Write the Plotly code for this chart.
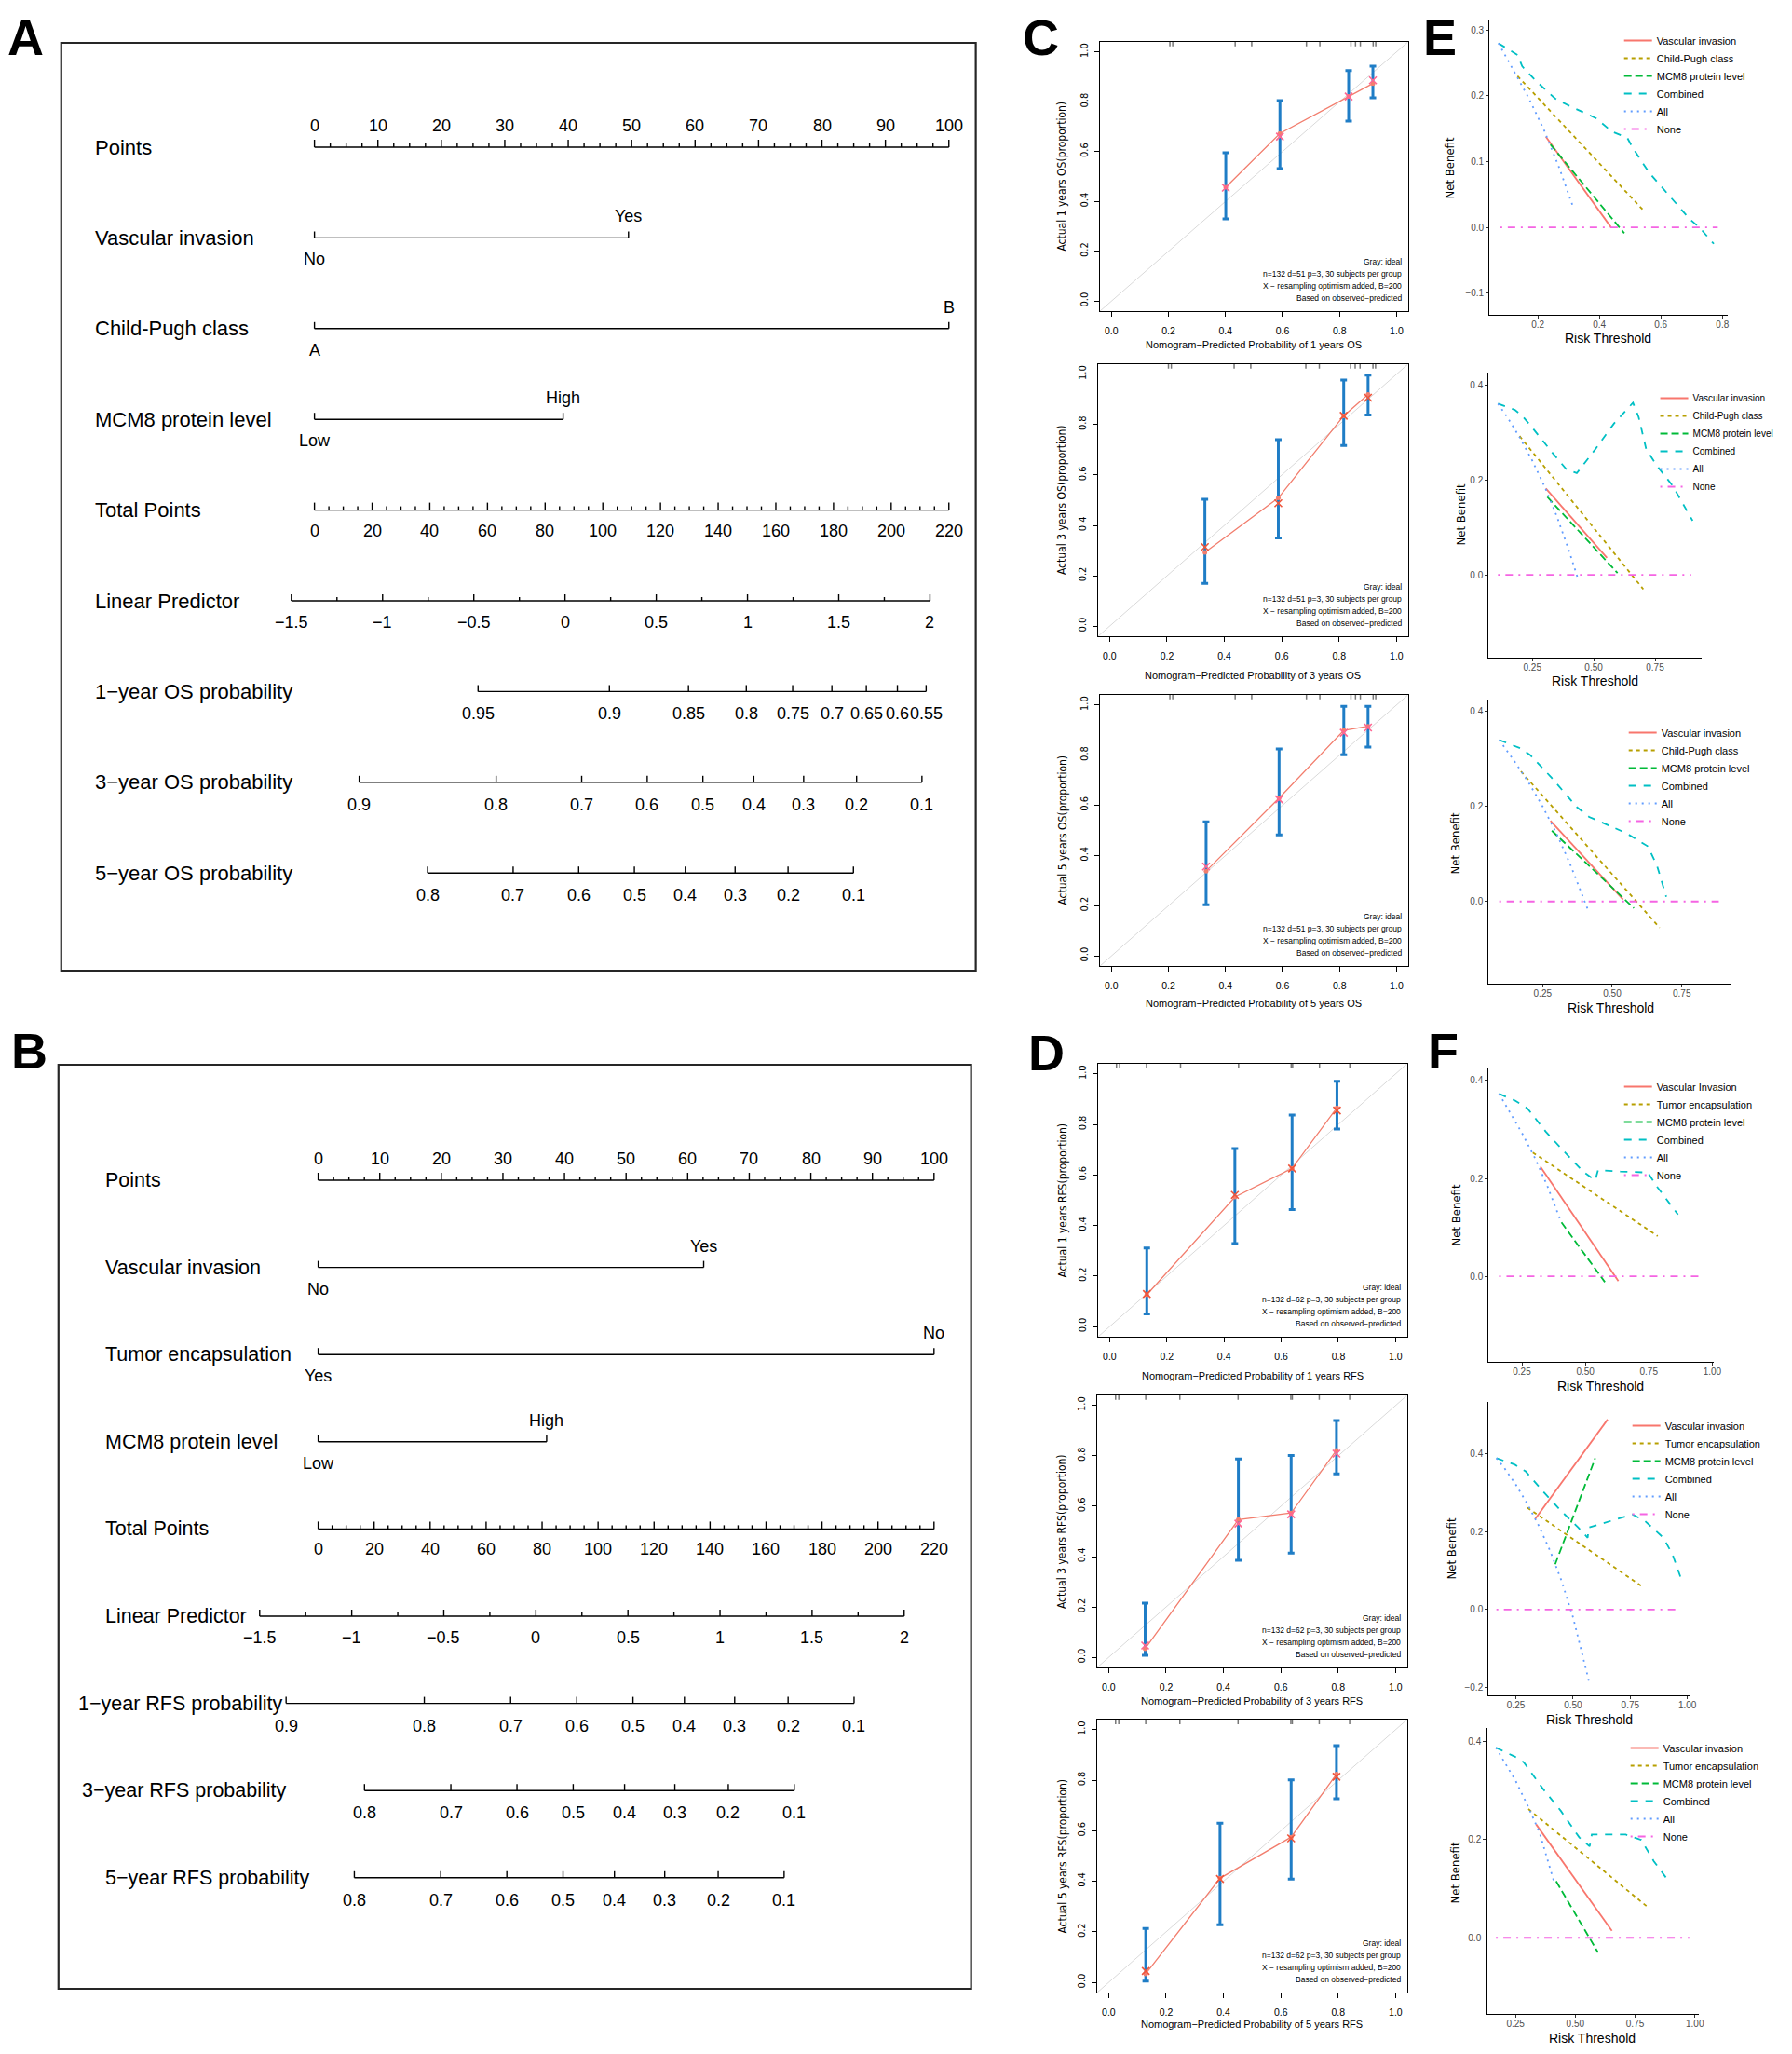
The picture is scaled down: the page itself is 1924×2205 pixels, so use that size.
import math
import plotly.graph_objects as go

W, H = 1924, 2205
PAGE_MARGIN = 8            # default <body> margin of the html page
FW, FH = W - 2 * PAGE_MARGIN, H - 2 * PAGE_MARGIN
FONT = "Liberation Sans, Arial, sans-serif"
NARROW = "Liberation Sans Narrow, DejaVu Sans Condensed, Arial Narrow, sans-serif"
MINUS = "\u2212"

# ---------------- Panel A: OS nomogram ----------------
A_var_names = ["Vascular invasion", "Child-Pugh class", "MCM8 protein level"]
A_var_levels = [["No", "Yes"], ["A", "B"], ["Low", "High"]]
A_var_points = [[0, 49.5], [0, 100], [0, 39.2]]
A_total_max = 220
A_lp_ticks = [-1.5, -1, -0.5, 0, 0.5, 1, 1.5, 2]
A_lp_zero_points = 39.5      # points-scale position of linear predictor = 0
A_points_per_lp = 28.76      # points-scale units per unit of linear predictor
A_surv_names = ["1\u2212year OS probability", "3\u2212year OS probability", "5\u2212year OS probability"]
A_surv_base = [0.9207, 0.7221, 0.6225]   # baseline survival S0(t)
A_surv_ticks = [[0.95, 0.9, 0.85, 0.8, 0.75, 0.7, 0.65, 0.6, 0.55],
                [0.9, 0.8, 0.7, 0.6, 0.5, 0.4, 0.3, 0.2, 0.1],
                [0.8, 0.7, 0.6, 0.5, 0.4, 0.3, 0.2, 0.1]]

# ---------------- Panel B: RFS nomogram ----------------
B_var_names = ["Vascular invasion", "Tumor encapsulation", "MCM8 protein level"]
B_var_levels = [["No", "Yes"], ["Yes", "No"], ["Low", "High"]]
B_var_points = [[0, 62.6], [0, 100], [0, 37.1]]
B_total_max = 220
B_lp_ticks = [-1.5, -1, -0.5, 0, 0.5, 1, 1.5, 2]
B_lp_zero_points = 35.35
B_points_per_lp = 29.9
B_surv_names = ["1\u2212year RFS probability", "3\u2212year RFS probability", "5\u2212year RFS probability"]
B_surv_base = [0.6643, 0.5678, 0.5499]
B_surv_ticks = [[0.9, 0.8, 0.7, 0.6, 0.5, 0.4, 0.3, 0.2, 0.1],
                [0.8, 0.7, 0.6, 0.5, 0.4, 0.3, 0.2, 0.1],
                [0.8, 0.7, 0.6, 0.5, 0.4, 0.3, 0.2, 0.1]]

# ---------------- Panel C: OS calibration ----------------
C1_pred = [0.401, 0.591, 0.832, 0.917]
C1_obs = [0.457, 0.673, 0.821, 0.873]
C1_corr = [0.455, 0.660, 0.821, 0.886]
C1_lo = [0.330, 0.532, 0.722, 0.816]
C1_hi = [0.595, 0.805, 0.925, 0.943]
C2_pred = [0.332, 0.588, 0.816, 0.901]
C2_obs = [0.293, 0.509, 0.835, 0.920]
C2_corr = [0.314, 0.488, 0.835, 0.907]
C2_lo = [0.170, 0.350, 0.717, 0.838]
C2_hi = [0.504, 0.740, 0.977, 0.997]
C3_pred = [0.332, 0.588, 0.815, 0.900]
C3_obs = [0.338, 0.629, 0.899, 0.915]
C3_corr = [0.356, 0.624, 0.889, 0.910]
C3_lo = [0.204, 0.482, 0.802, 0.832]
C3_hi = [0.534, 0.825, 0.995, 0.995]
C_rug = [0.205, 0.215, 0.434, 0.492, 0.684, 0.731, 0.840, 0.856, 0.873, 0.918, 0.927]
C_xtitles = ["Nomogram\u2212Predicted Probability of 1 years OS",
             "Nomogram\u2212Predicted Probability of 3 years OS",
             "Nomogram\u2212Predicted Probability of 5 years OS"]
C_ytitles = ["Actual 1 years OS(proportion)", "Actual 3 years OS(proportion)", "Actual 5 years OS(proportion)"]
C_note = "n=132 d=51 p=3, 30 subjects per group"

# ---------------- Panel D: RFS calibration ----------------
D1_pred = [0.130, 0.438, 0.638, 0.795]
D1_obs = [0.126, 0.513, 0.626, 0.866]
D1_corr = [0.129, 0.521, 0.626, 0.855]
D1_lo = [0.050, 0.329, 0.463, 0.782]
D1_hi = [0.311, 0.705, 0.837, 0.971]
D2_pred = [0.127, 0.452, 0.636, 0.794]
D2_obs = [0.034, 0.547, 0.573, 0.822]
D2_corr = [0.047, 0.531, 0.568, 0.809]
D2_lo = [0.008, 0.385, 0.414, 0.728]
D2_hi = [0.215, 0.788, 0.801, 0.940]
D3_pred = [0.129, 0.388, 0.636, 0.794]
D3_obs = [0.034, 0.412, 0.575, 0.824]
D3_corr = [0.045, 0.409, 0.570, 0.814]
D3_lo = [0.005, 0.228, 0.409, 0.727]
D3_hi = [0.213, 0.630, 0.801, 0.937]
D_rug = [0.024, 0.035, 0.129, 0.248, 0.451, 0.635, 0.640, 0.734, 0.840]
D_xtitles = ["Nomogram\u2212Predicted Probability of 1 years RFS",
             "Nomogram\u2212Predicted Probability of 3 years RFS",
             "Nomogram\u2212Predicted Probability of 5 years RFS"]
D_ytitles = ["Actual 1 years RFS(proportion)", "Actual 3 years RFS(proportion)", "Actual 5 years RFS(proportion)"]
D_note = "n=132 d=62 p=3, 30 subjects per group"

# ---------------- Panel E: OS decision curves ----------------
E_names = ["Vascular invasion", "Child-Pugh class", "MCM8 protein level", "Combined", "All", "None"]
E1_x = [[0.226, 0.438], [0.134, 0.547], [0.241, 0.481],
        [0.072, 0.134, 0.149, 0.195, 0.256, 0.297, 0.389, 0.440, 0.491, 0.511, 0.562, 0.695, 0.725, 0.772],
        [0.072, 0.12, 0.17, 0.22, 0.27, 0.316], [0.078, 0.785]]
E1_y = [[0.138, 0.0], [0.230, 0.024], [0.126, -0.009],
        [0.280, 0.262, 0.245, 0.222, 0.196, 0.186, 0.166, 0.146, 0.136, 0.119, 0.083, 0.012, 0.0, -0.025],
        [0.280, 0.240, 0.197, 0.148, 0.090, 0.029], [0.0, 0.0]]
E2_x = [[0.305, 0.554], [0.198, 0.702], [0.311, 0.597],
        [0.110, 0.179, 0.210, 0.254, 0.330, 0.387, 0.431, 0.506, 0.582, 0.660, 0.683, 0.714, 0.758, 0.821, 0.903],
        [0.110, 0.15, 0.2, 0.25, 0.3, 0.35, 0.4, 0.437], [0.110, 0.897]]
E2_y = [[0.182, 0.036], [0.292, -0.030], [0.164, 0.004],
        [0.360, 0.347, 0.334, 0.307, 0.258, 0.223, 0.214, 0.264, 0.318, 0.362, 0.332, 0.264, 0.229, 0.188, 0.114],
        [0.360, 0.330, 0.288, 0.240, 0.186, 0.123, 0.050, -0.010], [0.0, 0.0]]
E3_x = [[0.278, 0.539], [0.172, 0.670], [0.283, 0.578],
        [0.094, 0.172, 0.206, 0.283, 0.372, 0.417, 0.472, 0.550, 0.628, 0.661, 0.694],
        [0.094, 0.15, 0.2, 0.25, 0.3, 0.35, 0.411], [0.094, 0.883]]
E3_y = [[0.170, 0.004], [0.274, -0.055], [0.149, -0.014],
        [0.340, 0.322, 0.308, 0.260, 0.199, 0.178, 0.164, 0.144, 0.116, 0.075, 0.010],
        [0.340, 0.294, 0.250, 0.200, 0.143, 0.077, -0.015], [0.0, 0.0]]

# ---------------- Panel F: RFS decision curves ----------------
F1_names = ["Vascular Invasion", "Tumor encapsulation", "MCM8 protein level", "Combined", "All", "None"]
F_names = ["Vascular invasion", "Tumor encapsulation", "MCM8 protein level", "Combined", "All", "None"]
F1_x = [[0.323, 0.630], [0.293, 0.785], [0.406, 0.577],
        [0.160, 0.223, 0.272, 0.345, 0.418, 0.491, 0.539, 0.550, 0.638, 0.746, 0.784, 0.865],
        [0.160, 0.2, 0.25, 0.3, 0.35, 0.4], [0.160, 0.967]]
F1_y = [[0.224, -0.010], [0.253, 0.082], [0.110, -0.012],
        [0.373, 0.359, 0.343, 0.295, 0.254, 0.214, 0.196, 0.217, 0.214, 0.212, 0.182, 0.126],
        [0.373, 0.338, 0.293, 0.243, 0.185, 0.117], [0.0, 0.0]]
F2_x = [[0.334, 0.651], [0.300, 0.800], [0.422, 0.597],
        [0.165, 0.246, 0.293, 0.368, 0.449, 0.523, 0.564, 0.568, 0.665, 0.759, 0.814, 0.895, 0.935, 0.976],
        [0.165, 0.2, 0.25, 0.3, 0.35, 0.4, 0.45, 0.5, 0.57], [0.165, 0.969]]
F2_y = [[0.232, 0.487], [0.261, 0.060], [0.116, 0.388],
        [0.388, 0.371, 0.354, 0.303, 0.252, 0.210, 0.184, 0.210, 0.227, 0.244, 0.227, 0.184, 0.141, 0.073],
        [0.388, 0.3625, 0.320, 0.271, 0.215, 0.150, 0.073, -0.020, -0.185], [0.0, 0.0]]
F3_x = [[0.336, 0.653], [0.304, 0.799], [0.420, 0.595],
        [0.168, 0.246, 0.285, 0.362, 0.440, 0.517, 0.560, 0.569, 0.711, 0.776, 0.828, 0.880],
        [0.168, 0.2, 0.25, 0.3, 0.35, 0.414], [0.168, 0.977]]
F3_y = [[0.231, 0.014], [0.262, 0.064], [0.115, -0.030],
        [0.387, 0.369, 0.357, 0.305, 0.258, 0.204, 0.186, 0.210, 0.210, 0.199, 0.156, 0.122],
        [0.387, 0.360, 0.320, 0.270, 0.215, 0.109], [0.0, 0.0]]

DCA_colors = ["#F8766D", "#B79F00", "#00BA38", "#00BFC4", "#619CFF", "#F564E3"]
DCA_dashes = ["solid", "4px,4px", "8px,4px", "8px,8px", "2px,5px", "2px,6px,8px,6px"]

# =====================================================================
fig = go.Figure()
layout = dict(width=FW, height=FH, margin=dict(l=0, r=0, t=0, b=0),
              paper_bgcolor="white", plot_bgcolor="white", hovermode=False, showlegend=True)
annotations = []
shapes = []


def fx(px):
    return (px - PAGE_MARGIN) / FW


def fy(py):
    return 1 - (py - PAGE_MARGIN) / FH


def axname(i, xy):
    return f"{xy}axis" if i == 1 else f"{xy}axis{i}"


def axref(i, xy):
    return xy if i == 1 else f"{xy}{i}"


def fmt(v):
    return f"{v:g}".replace("-", MINUS)


def nomogram(i, box, zero_px, hundred_px, row0_px, rowpx, label_px, label_size,
             names, levels, pts, total_max, lp_ticks, lp0pts, ppl, snames, sbase, sticks):
    x0, y0, x1, y1 = box
    ppp = (hundred_px - zero_px) / 100.0
    xa, ya = axref(i, "x"), axref(i, "y")
    layout[axname(i, "x")] = dict(domain=[fx(x0), fx(x1)],
                                  range=[(x0 - zero_px) / ppp, (x1 - zero_px) / ppp],
                                  visible=False, anchor=ya)
    layout[axname(i, "y")] = dict(domain=[fy(y1), fy(y0)],
                                  range=[(y1 - row0_px) / rowpx, (y0 - row0_px) / rowpx],
                                  visible=False, anchor=xa)
    xs, ys = [], []

    def seg(a, b, c, d):
        xs.extend([a, c, None])
        ys.extend([b, d, None])

    def tick(x, r, L):
        seg(x, r, x, r - L / rowpx)

    def tlab(x, r, text, dy):
        annotations.append(dict(x=x, y=r, xref=xa, yref=ya, text=text, showarrow=False,
                                xanchor="center", yanchor="middle", yshift=dy,
                                font=dict(family=FONT, size=18, color="black")))

    all_names = ["Points"] + names + ["Total Points", "Linear Predictor"] + snames
    for r, nm in enumerate(all_names):
        annotations.append(dict(x=fx(label_px[r]), xref="paper", y=r, yref=ya, text=nm,
                                showarrow=False, xanchor="left", yanchor="middle",
                                font=dict(family=FONT, size=label_size, color="black")))
    # Points scale
    r = 0
    seg(0, r, 100, r)
    for k in range(41):
        v = k * 2.5
        if k % 4 == 0:
            tick(v, r, 8)
            tlab(v, r, fmt(v), 23)
        else:
            tick(v, r, 4)
    # predictors
    for j in range(len(names)):
        r = 1 + j
        p0, p1 = pts[j]
        seg(p0, r, p1, r)
        tick(p0, r, 7)
        tick(p1, r, 7)
        tlab(p0, r, levels[j][0], -23)
        tlab(p1, r, levels[j][1], 23)
    # total points
    r = 1 + len(names)

    def to_x(t):
        return t * 100.0 / total_max
    seg(0, r, to_x(total_max), r)
    for t in range(0, total_max + 1, 5):
        if t % 20 == 0:
            tick(to_x(t), r, 8)
            tlab(to_x(t), r, fmt(t), -22)
        else:
            tick(to_x(t), r, 4)
    # linear predictor
    r += 1

    def lp_x(lp):
        return lp0pts + ppl * lp
    seg(lp_x(lp_ticks[0]), r, lp_x(lp_ticks[-1]), r)
    for k in range(len(lp_ticks)):
        v = lp_ticks[k]
        tick(lp_x(v), r, 7)
        tlab(lp_x(v), r, fmt(v), -23)
        if k < len(lp_ticks) - 1:
            tick(lp_x((v + lp_ticks[k + 1]) / 2), r, 4)
    # survival probability scales
    for j in range(len(snames)):
        r += 1
        lnS0 = math.log(sbase[j])
        sx = [lp_x(math.log(math.log(p) / lnS0)) for p in sticks[j]]
        seg(min(sx), r, max(sx), r)
        for p, x in zip(sticks[j], sx):
            tick(x, r, 7)
            tlab(x, r, fmt(p), -24)
    fig.add_trace(go.Scatter(x=xs, y=ys, xaxis=xa, yaxis=ya, mode="lines",
                             line=dict(color="black", width=1.4), showlegend=False, hoverinfo="skip"))


def calib(i, box, pred, obs, corr, lo, hi, rug, xtitle, ytitle, note, xt_off):
    x0, y0, x1, y1 = box
    xa, ya = axref(i, "x"), axref(i, "y")
    common = dict(range=[-0.04, 1.04], tick0=0, dtick=0.2, tickformat=".1f", showline=True, mirror=True,
                  linecolor="black", linewidth=1, ticks="outside", ticklen=5, tickwidth=1, tickcolor="black",
                  showgrid=False, zeroline=False)
    layout[axname(i, "x")] = dict(common, domain=[fx(x0), fx(x1)], anchor=ya,
                                  tickfont=dict(family=FONT, size=10.5, color="black"), ticklabelstandoff=6)
    layout[axname(i, "y")] = dict(common, domain=[fy(y1), fy(y0)], anchor=xa, tickangle=-90,
                                  tickfont=dict(family=NARROW, size=11, color="black"), ticklabelstandoff=3)
    ideal = [-0.04, 1.04]
    fig.add_trace(go.Scatter(x=ideal, y=ideal, xaxis=xa, yaxis=ya, mode="lines",
                             line=dict(color="#D9D9D9", width=1), showlegend=False, hoverinfo="skip"))
    rx, ry = [], []
    for v in rug:
        rx += [v, v, None]
        ry += [1.04, 1.022, None]
    fig.add_trace(go.Scatter(x=rx, y=ry, xaxis=xa, yaxis=ya, mode="lines",
                             line=dict(color="#777777", width=1.5), showlegend=False, hoverinfo="skip"))
    fig.add_trace(go.Scatter(x=pred, y=obs, xaxis=xa, yaxis=ya, mode="markers",
                             marker=dict(size=1, color="rgba(0,0,0,0)"),
                             error_y=dict(type="data", symmetric=False,
                                          array=[h - o for h, o in zip(hi, obs)],
                                          arrayminus=[o - l for o, l in zip(obs, lo)],
                                          color="#1F7DC6", thickness=3, width=3.5),
                             showlegend=False, hoverinfo="skip"))
    fig.add_trace(go.Scatter(x=pred, y=obs, xaxis=xa, yaxis=ya, mode="lines+markers",
                             line=dict(color="#F27E6E", width=1.3), marker=dict(size=5, color="#F27E6E"),
                             showlegend=False, hoverinfo="skip"))
    fig.add_trace(go.Scatter(x=pred, y=corr, xaxis=xa, yaxis=ya, mode="markers",
                             marker=dict(symbol="x-thin-open", size=8, line=dict(color="#2020F0", width=1.6)),
                             showlegend=False, hoverinfo="skip"))
    texts = ["Gray: ideal", note, "X \u2212 resampling optimism added, B=200", "Based on observed\u2212predicted"]
    for t, dy in zip(texts, [53, 40, 27, 14]):
        annotations.append(dict(x=0.985, xref=f"{xa} domain", y=0, yref=f"{ya} domain", yshift=dy, text=t,
                                xanchor="right", yanchor="middle", showarrow=False,
                                font=dict(family=FONT, size=8.5, color="black")))
    annotations.append(dict(x=0.5, xref=f"{xa} domain", y=0, yref=f"{ya} domain", yshift=-xt_off,
                            text=xtitle, xanchor="center", yanchor="middle", showarrow=False,
                            font=dict(family=FONT, size=11, color="black")))
    annotations.append(dict(x=0, xref=f"{xa} domain", xshift=-(x0 - 1145), y=0.5, yref=f"{ya} domain",
                            text=ytitle, textangle=-90, xanchor="center", yanchor="middle", showarrow=False,
                            font=dict(family=NARROW, size=12, color="black")))


def dca(i, box, xr, yr, xdtick, xfmt, ydtick, names, xs_list, ys_list, leg, leg_xy, leg_size, nb_xy, rt_xy):
    x0, y0, x1, y1 = box
    xa, ya = axref(i, "x"), axref(i, "y")
    common = dict(showline=True, linecolor="black", linewidth=1.2, ticks="outside", ticklen=3, tickwidth=1,
                  tickcolor="#333333", tickfont=dict(family=FONT, size=10, color="#4D4D4D"),
                  showgrid=False, zeroline=False, tick0=0)
    layout[axname(i, "x")] = dict(common, domain=[fx(x0), fx(x1)], range=xr, dtick=xdtick, tickformat=xfmt,
                                  anchor=ya, ticklabelstandoff=-2)
    layout[axname(i, "y")] = dict(common, domain=[fy(y1), fy(y0)], range=yr, dtick=ydtick, tickformat=".1f",
                                  anchor=xa)
    for k in range(len(names)):
        fig.add_trace(go.Scatter(x=xs_list[k], y=ys_list[k], xaxis=xa, yaxis=ya, mode="lines", name=names[k],
                                 line=dict(color=DCA_colors[k], width=1.8, dash=DCA_dashes[k]),
                                 legend=leg, showlegend=True, hoverinfo="skip"))
    layout[leg] = dict(x=fx(leg_xy[0] - 42), y=fy(leg_xy[1] - 11), xanchor="left", yanchor="top",
                       bgcolor="rgba(0,0,0,0)", font=dict(family=FONT, size=leg_size, color="black"),
                       tracegroupgap=0, itemwidth=30)
    annotations.append(dict(x=fx(nb_xy[0]), y=fy(nb_xy[1]), xref="paper", yref="paper", text="Net Benefit",
                            textangle=-90, showarrow=False, xanchor="center", yanchor="middle",
                            font=dict(family=NARROW, size=13, color="black")))
    annotations.append(dict(x=fx(rt_xy[0]), y=fy(rt_xy[1]), xref="paper", yref="paper", text="Risk Threshold",
                            showarrow=False, xanchor="center", yanchor="middle",
                            font=dict(family=FONT, size=14, color="black")))


# ---- nomograms ----
nomogram(1, (66, 46, 1052, 1042), 339, 1023, 158, 97.4, [100] * 9, 22,
         A_var_names, A_var_levels, A_var_points, A_total_max, A_lp_ticks,
         A_lp_zero_points, A_points_per_lp, A_surv_names, A_surv_base, A_surv_ticks)
nomogram(2, (63, 1143, 1047, 2135), 343, 1007, 1267, 93.6, [111] * 6 + [82, 86, 111], 21.5,
         B_var_names, B_var_levels, B_var_points, B_total_max, B_lp_ticks,
         B_lp_zero_points, B_points_per_lp, B_surv_names, B_surv_base, B_surv_ticks)
shapes.append(dict(type="rect", xref="paper", yref="paper", x0=fx(66), x1=fx(1052), y0=fy(46), y1=fy(1042),
                   line=dict(color="#262626", width=2.2)))
shapes.append(dict(type="rect", xref="paper", yref="paper", x0=fx(63), x1=fx(1047), y0=fy(1143), y1=fy(2135),
                   line=dict(color="#262626", width=2.2)))

# ---- calibration ----
calib(3, (1186, 45, 1518, 334), C1_pred, C1_obs, C1_corr, C1_lo, C1_hi, C_rug, C_xtitles[0], C_ytitles[0], C_note, 36)
calib(4, (1184, 391, 1518, 683), C2_pred, C2_obs, C2_corr, C2_lo, C2_hi, C_rug, C_xtitles[1], C_ytitles[1], C_note, 42)
calib(5, (1186, 746, 1518, 1037), C3_pred, C3_obs, C3_corr, C3_lo, C3_hi, C_rug, C_xtitles[2], C_ytitles[2], C_note, 40)
calib(6, (1184, 1142, 1517, 1435), D1_pred, D1_obs, D1_corr, D1_lo, D1_hi, D_rug, D_xtitles[0], D_ytitles[0], D_note, 42)
calib(7, (1183, 1498, 1517, 1790), D2_pred, D2_obs, D2_corr, D2_lo, D2_hi, D_rug, D_xtitles[1], D_ytitles[1], D_note, 36)
calib(8, (1183, 1846, 1517, 2139), D3_pred, D3_obs, D3_corr, D3_lo, D3_hi, D_rug, D_xtitles[2], D_ytitles[2], D_note, 34)

# ---- decision curves ----
dca(9, (1606, 21, 1863, 338), [0.043, 0.818], [-0.133, 0.316], 0.2, ".1f", 0.1, E_names, E1_x, E1_y,
    "legend", (1788, 40), 11, (1563, 180), (1734, 363))
dca(10, (1605, 400, 1835, 706), [0.072, 0.941], [-0.174, 0.4255], 0.25, ".2f", 0.2, E_names, E2_x, E2_y,
    "legend2", (1827, 424), 10, (1575, 552), (1720, 731))
dca(11, (1605, 751, 1867, 1056), [0.056, 0.929], [-0.173, 0.425], 0.25, ".2f", 0.2, E_names, E3_x, E3_y,
    "legend3", (1793, 783), 11, (1570, 905), (1737, 1082))
dca(12, (1605, 1146, 1848, 1462), [0.119, 1.007], [-0.175, 0.4266], 0.25, ".2f", 0.2, F1_names, F1_x, F1_y,
    "legend4", (1788, 1163), 11, (1570, 1304), (1726, 1488))
dca(13, (1605, 1505, 1823, 1820), [0.131, 1.015], [-0.220, 0.532], 0.25, ".2f", 0.2, F_names, F2_x, F2_y,
    "legend5", (1797, 1527), 11, (1565, 1662), (1714, 1846))
dca(14, (1603, 1855, 1832, 2162), [0.130, 1.018], [-0.155, 0.427], 0.25, ".2f", 0.2, F_names, F3_x, F3_y,
    "legend6", (1795, 1873), 11, (1569, 2010), (1717, 2188))

# ---- panel letters ----
for letter, (px, py) in zip("ABCDEF", [(28, 40), (32, 1128), (1122, 40), (1128, 1130), (1552, 40), (1556, 1128)]):
    annotations.append(dict(x=fx(px), y=fy(py), xref="paper", yref="paper", text=f"<b>{letter}</b>",
                            showarrow=False, xanchor="center", yanchor="middle",
                            font=dict(family=FONT, size=54, color="black")))

layout["annotations"] = annotations
layout["shapes"] = shapes
fig.update_layout(**layout)
fig.write_html("out.html")
